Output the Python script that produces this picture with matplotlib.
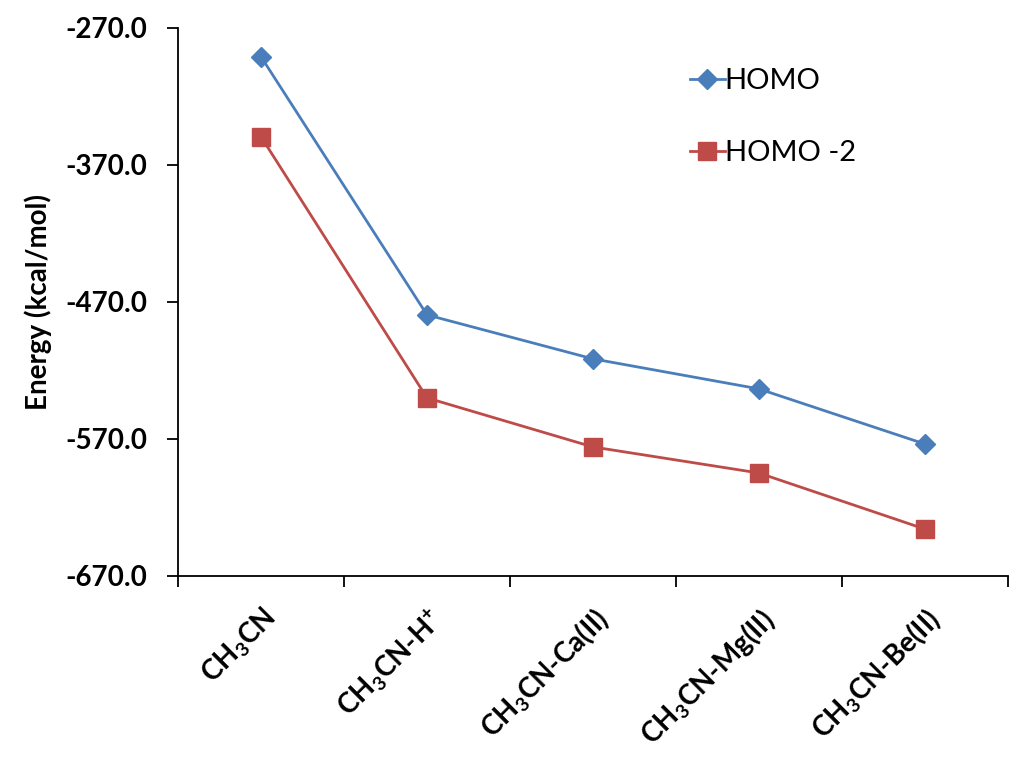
import matplotlib
matplotlib.use("Agg")
import matplotlib.pyplot as plt

categories = [r"CH$_\mathbf{3}$CN", r"CH$_\mathbf{3}$CN-H$^\mathbf{+}$", r"CH$_\mathbf{3}$CN-Ca(II)",
              r"CH$_\mathbf{3}$CN-Mg(II)", r"CH$_\mathbf{3}$CN-Be(II)"]
homo = [-291.2, -479.5, -511.6, -533.5, -573.7]
homo2 = [-349.6, -540.1, -575.9, -594.9, -635.8]
yticks = [-270.0, -370.0, -470.0, -570.0, -670.0]

plt.rcParams["font.family"] = ["Lato", "DejaVu Sans"]
plt.rcParams["mathtext.fontset"] = "custom"
plt.rcParams["mathtext.rm"] = "Lato:bold"
plt.rcParams["mathtext.bf"] = "Lato:bold"

fig = plt.figure(figsize=(10.24, 7.74), dpi=100)
ax = fig.add_axes([0.174, 0.256, 0.81, 0.708])

x = list(range(len(categories)))
ax.plot(x, homo, color="#4A7EBB", lw=2, marker="D", markersize=10, label="HOMO")
ax.plot(x, homo2, color="#BE4B48", lw=2, marker="s", markersize=13, label="HOMO -2")

ax.set_xlim(-0.5, len(categories) - 0.5)
ax.set_ylim(-670, -270)
ax.set_yticks(yticks)
ax.set_yticklabels([f"{v:.1f}" for v in yticks], fontsize=20, fontweight="bold")
ax.set_ylabel("Energy (kcal/mol)", fontsize=20, fontweight="bold", labelpad=10)

ax.set_xticks([i - 0.5 for i in range(len(categories) + 1)])
ax.set_xticklabels([])
ax.set_xticks(x, minor=True)
ax.set_xticklabels(categories, minor=True, rotation=45, ha="right", rotation_mode="anchor",
                   fontsize=20, fontweight="bold")
ax.tick_params(axis="x", which="minor", length=0, pad=20)
ax.tick_params(axis="x", which="major", length=8, width=1.3, direction="out")
ax.tick_params(axis="y", length=8, width=1.3, direction="out", pad=14)

for s in ["top", "right"]:
    ax.spines[s].set_visible(False)
ax.spines["left"].set_linewidth(1.3)
ax.spines["bottom"].set_linewidth(1.3)

ax.legend(loc="upper left", bbox_to_anchor=(0.585, 0.975), frameon=False, fontsize=21,
          handlelength=1.2, handletextpad=0.0, labelspacing=1.6)

fig.savefig("out.png", dpi=100)
